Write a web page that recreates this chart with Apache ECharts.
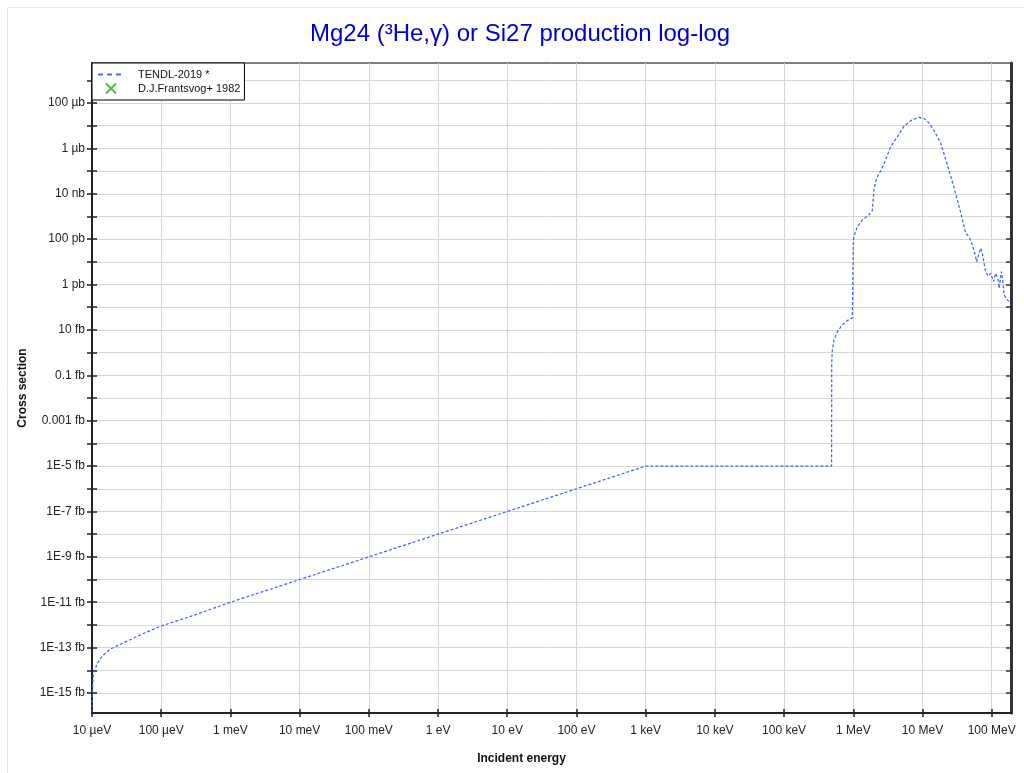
<!DOCTYPE html>
<html><head><meta charset="utf-8">
<script src="https://cdn.jsdelivr.net/npm/echarts@6/dist/echarts.min.js"></script>
<style>html,body{margin:0;padding:0;background:#fff}#c{width:1024px;height:773px}</style>
</head><body><div id="c"></div><script>
// Incident energy (eV) and cross section (barn) for TENDL-2019
const tendlE = [1.0e-5, 1.01e-5, 1.044e-5, 1.17e-5, 1.38e-5, 1.82e-5, 3.18e-5, 5.52e-5, 1.0e-4, 2.89e-4,
  1.0e-3, 1.0e-2, 0.1, 1, 10, 100, 1000, 4.86e5, 4.88e5, 4.96e5, 5.25e5, 5.88e5, 6.94e5, 8.19e5, 9.68e5, 9.95e5,
  1.0e6, 1.02e6, 1.14e6, 1.35e6, 1.68e6, 1.88e6, 1.99e6, 2.10e6, 2.30e6, 2.48e6, 2.77e6, 3.11e6, 3.47e6, 4.34e6,
  5.35e6, 6.75e6, 8.81e6, 1.04e7, 1.23e7, 1.45e7, 1.83e7, 2.29e7, 2.83e7, 3.57e7, 4.21e7, 4.70e7, 5.26e7, 5.69e7,
  6.08e7, 6.34e7, 6.94e7, 7.34e7, 7.74e7, 8.20e7, 8.85e7, 9.69e7, 1.06e8, 1.14e8, 1.24e8, 1.28e8, 1.38e8, 1.43e8,
  1.51e8, 1.69e8, 1.88e8];
const tendlXS = [1.4e-31, 1.2e-30, 6.0e-30, 1.8e-29, 4.0e-29, 8.5e-29, 1.9e-28, 4.2e-28, 9.0e-28, 2.6e-27,
  1.0e-26, 1.0e-25, 1.0e-24, 1.0e-23, 1.0e-22, 1.0e-21, 1.0e-20, 1.0e-20, 3.0e-16, 1.1e-15, 3.6e-15, 8.3e-15, 1.66e-14, 2.57e-14, 3.4e-14, 3.6e-14,
  6.0e-11, 1.3e-10, 3.4e-10, 7.0e-10, 1.17e-9, 1.8e-9, 1.5e-8, 3.4e-8, 7.0e-8, 1.0e-7, 2.0e-7, 5.1e-7, 1.19e-6, 3.3e-6,
  9.1e-6, 1.67e-5, 2.35e-5, 2.12e-5, 1.36e-5, 6.5e-6, 1.74e-6, 1.87e-7, 2.05e-8, 1.43e-9, 1.86e-10, 1.29e-10, 5.5e-11, 2.4e-11,
  1.0e-11, 1.7e-11, 4.0e-11, 2.4e-11, 8.7e-12, 3.7e-12, 2.4e-12, 3.1e-12, 1.35e-12, 3.1e-12, 1.6e-12, 6.9e-13, 3.7e-12, 1.9e-12,
  3.5e-13, 2.1e-13, 1.6e-13];
// D.J.Frantsvog+ 1982: no points inside the plotted range
const frantsvogData = [];

const xTickValues = [1e-5, 1e-4, 1e-3, 1e-2, 1e-1, 1, 10, 100, 1e3, 1e4, 1e5, 1e6, 1e7, 1e8];
const xTickLabels = ['10 µeV', '100 µeV', '1 meV', '10 meV', '100 meV', '1 eV', '10 eV', '100 eV',
  '1 keV', '10 keV', '100 keV', '1 MeV', '10 MeV', '100 MeV'];
const yTickValues = [1e-30, 1e-29, 1e-28, 1e-27, 1e-26, 1e-25, 1e-24, 1e-23, 1e-22, 1e-21, 1e-20, 1e-19,
  1e-18, 1e-17, 1e-16, 1e-15, 1e-14, 1e-13, 1e-12, 1e-11, 1e-10, 1e-9, 1e-8, 1e-7, 1e-6, 1e-5, 1e-4, 1e-3];
const yLabelValues = [1e-30, 1e-28, 1e-26, 1e-24, 1e-22, 1e-20, 1e-18, 1e-16, 1e-14, 1e-12, 1e-10, 1e-8, 1e-6, 1e-4];
const yTickLabels = ['1E-15 fb', '1E-13 fb', '1E-11 fb', '1E-9 fb', '1E-7 fb', '1E-5 fb', '0.001 fb', '0.1 fb',
  '10 fb', '1 pb', '100 pb', '10 nb', '1 µb', '100 µb'];

const xMin = 1e-5, xMax = 1.9e8, yMin = 1.315e-31, yMax = 5.8e-3;

const exp10 = v => Math.round(Math.log10(v));
const xExps = xTickValues.map(exp10);
const yExps = yLabelValues.map(exp10);
const font = '"Liberation Sans", Arial, sans-serif';

const chart = echarts.init(document.getElementById('c'), null, {renderer: 'canvas'});
const baseX = {type: 'log', logBase: 10, min: xMin, max: xMax, gridIndex: 0};
const baseY = {type: 'log', logBase: 10, min: yMin, max: yMax, gridIndex: 0};
chart.setOption({
  animation: false,
  backgroundColor: '#fff',
  title: {
    text: 'Mg24 (³He,γ) or Si27 production log-log',
    left: 305, top: 17,
    textStyle: {color: '#0000cd', fontSize: 24, fontWeight: 'normal', fontFamily: font}
  },
  graphic: [{type: 'rect', silent: true, z: -10,
    shape: {x: 7.5, y: 7.5, width: 1100, height: 900},
    style: {fill: 'none', stroke: '#e4e4e4', lineWidth: 1}}],
  grid: {left: 92, right: 13, top: 63, bottom: 60, show: true, borderColor: '#000', borderWidth: 1, backgroundColor: 'transparent'},
  legend: {
    orient: 'vertical', left: 92, top: 63, itemWidth: 26, itemHeight: 10, itemGap: 1,
    padding: [6, 4, 4, 5], borderColor: '#000', borderWidth: 1, backgroundColor: '#fff',
    textStyle: {fontSize: 11, color: '#111', fontFamily: font, padding: [0, 0, 0, 9]},
    data: [
      {name: 'TENDL-2019 *', itemStyle: {opacity: 0}, lineStyle: {type: [5, 4], width: 2, color: '#4a70e0'}},
      {name: 'D.J.Frantsvog+ 1982'}
    ]
  },
  xAxis: [
    Object.assign({}, baseX, {
      position: 'bottom',
      name: 'Incident energy', nameLocation: 'middle', nameGap: 40,
      nameTextStyle: {fontWeight: 'bold', fontSize: 12, color: '#111', fontFamily: font, padding: [0, 60, 0, 0]},
      axisLine: {show: true, onZero: false, lineStyle: {color: '#222', width: 2}},
      axisTick: {show: true, length: 4, customValues: xTickValues, lineStyle: {color: '#222', width: 1.5}},
      axisLabel: {customValues: xTickValues, margin: 12, fontSize: 12, color: '#222', fontFamily: font,
        formatter: v => { const i = xExps.indexOf(exp10(v)); return i >= 0 ? xTickLabels[i] : ''; }},
      splitLine: {show: true, lineStyle: {color: '#d6d6d6', width: 1}},
      minorTick: {show: false}, minorSplitLine: {show: false}
    }),
    Object.assign({}, baseX, {
      position: 'bottom',
      axisLine: {show: false, onZero: false},
      axisTick: {show: true, inside: true, length: 4, customValues: xTickValues, lineStyle: {color: '#222', width: 1.5}},
      axisLabel: {show: false}, splitLine: {show: false}
    })
  ],
  yAxis: [
    Object.assign({}, baseY, {
      position: 'left',
      name: 'Cross section', nameLocation: 'middle', nameGap: 58, nameRotate: 90,
      nameTextStyle: {fontWeight: 'bold', fontSize: 12, color: '#111', fontFamily: font},
      axisLine: {show: true, onZero: false, lineStyle: {color: '#222', width: 2}},
      axisTick: {show: true, length: 5, customValues: yTickValues, lineStyle: {color: '#222', width: 1.5}},
      axisLabel: {customValues: yLabelValues, margin: 7, fontSize: 12, color: '#222', fontFamily: font,
        formatter: v => { const i = yExps.indexOf(exp10(v)); return i >= 0 ? yTickLabels[i] : ''; }},
      splitLine: {show: true, lineStyle: {color: '#d6d6d6', width: 1}},
      minorTick: {show: false}, minorSplitLine: {show: false}
    }),
    Object.assign({}, baseY, {
      position: 'left',
      axisLine: {show: false, onZero: false},
      axisTick: {show: true, inside: true, length: 5, customValues: yTickValues, lineStyle: {color: '#222', width: 1.5}},
      axisLabel: {show: false}, splitLine: {show: false}
    }),
    Object.assign({}, baseY, {
      position: 'right',
      axisLine: {show: true, onZero: false, lineStyle: {color: '#333', width: 3}},
      axisTick: {show: true, inside: true, length: 5, customValues: yTickValues, lineStyle: {color: '#333', width: 1.5}},
      axisLabel: {show: false}, splitLine: {show: false}
    })
  ],
  series: [
    {
      name: 'TENDL-2019 *', type: 'line', xAxisIndex: 0, yAxisIndex: 0,
      data: tendlE.map((e, i) => [e, tendlXS[i]]),
      showSymbol: false, symbol: 'none', smooth: false,
      lineStyle: {color: '#3c64dc', width: 1.2, type: [3, 2]},
      itemStyle: {color: '#3c64dc'}
    },
    {
      name: 'D.J.Frantsvog+ 1982', type: 'scatter', xAxisIndex: 0, yAxisIndex: 0,
      data: frantsvogData,
      symbol: 'path://M0,0 L10,10 M10,0 L0,10', symbolSize: 8, symbolKeepAspect: true,
      itemStyle: {color: 'none', borderColor: '#22aa22', borderWidth: 1}
    }
  ]
});
</script></body></html>
